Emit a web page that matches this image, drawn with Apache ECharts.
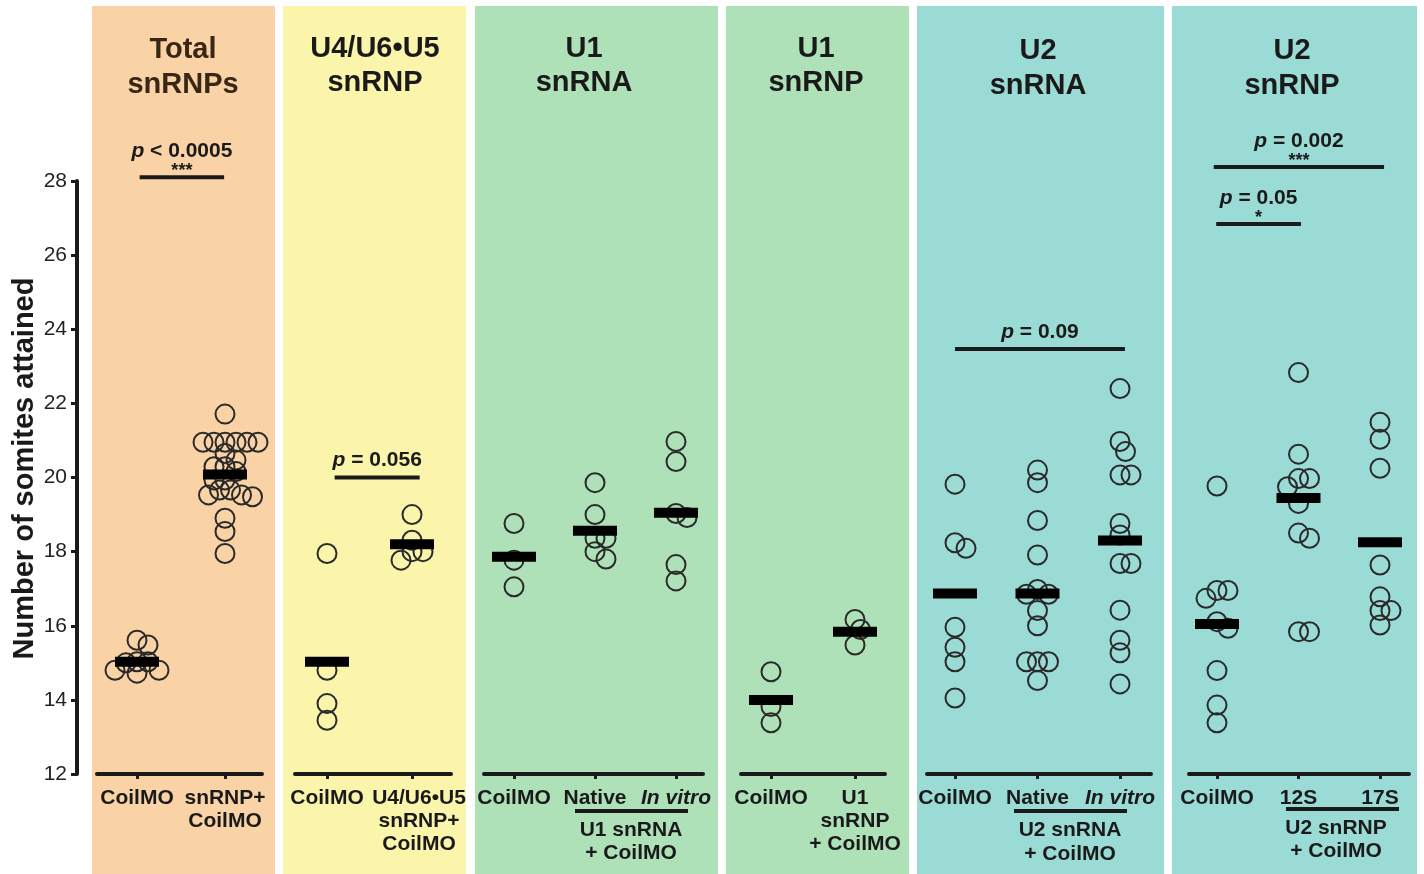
<!DOCTYPE html>
<html>
<head>
<meta charset="utf-8">
<script src="https://cdn.jsdelivr.net/npm/echarts@6/dist/echarts.min.js"></script>
<style>
  html, body { margin: 0; padding: 0; background: #ffffff; }
  #chart { width: 1424px; height: 874px; }
</style>
</head>
<body>
<div id="chart"></div>
<script>
// ---- Somites attained per embryo, by injection group ----
const totalCoil    = [15.61, 15.48, 15.03, 15.03, 15.0, 14.8, 14.8, 14.72];
const totalSnrnp   = [21.71, 20.95, 20.95, 20.95, 20.95, 20.95, 20.95, 20.65, 20.47, 20.29, 20.29,
                      20.16, 19.93, 19.93, 19.66, 19.66, 19.53, 19.53, 19.48, 18.9, 18.54, 17.95];
const totalMeans   = [15.03, 20.08];

const u456Coil     = [17.95, 14.8, 13.9, 13.45];
const u456Snrnp    = [19.0, 18.31, 18.0, 18.0, 17.77];
const u456Means    = [15.03, 18.2];

const u1rnaCoil    = [18.76, 17.77, 17.05];
const u1rnaNative  = [19.86, 19.0, 18.36, 18.36, 18.0, 17.8];
const u1rnaInVitro = [20.97, 20.43, 19.03, 18.92, 17.65, 17.21];
const u1rnaMeans   = [17.86, 18.56, 19.05];

const u1rnpCoil    = [14.76, 13.82, 13.38];
const u1rnpSnrnp   = [16.17, 15.9, 15.48];
const u1rnpMeans   = [14.0, 15.84];

const u2rnaCoil    = [19.82, 18.24, 18.09, 15.96, 15.42, 15.03, 14.05];
const u2rnaNative  = [20.2, 19.86, 18.84, 17.91, 16.98, 16.85, 16.85, 16.41, 16.0, 15.03, 15.03, 15.03, 14.52];
const u2rnaInVitro = [22.4, 20.97, 20.7, 20.07, 20.07, 18.76, 18.45, 17.68, 17.68, 16.42, 15.61, 15.27, 14.43];
const u2rnaMeans   = [16.87, 16.87, 18.3];

const u2rnpCoil    = [19.77, 16.95, 16.95, 16.74, 16.11, 15.93, 14.79, 13.86, 13.38];
const u2rnp12S     = [22.83, 20.63, 19.97, 19.97, 19.75, 19.3, 18.5, 18.36, 15.84, 15.84];
const u2rnp17S     = [21.49, 21.03, 20.25, 17.64, 16.78, 16.41, 16.41, 16.02];
const u2rnpMeans   = [16.05, 19.45, 18.25];

// ---- Category (tick) labels and panel titles ----
const totalLabels  = ['CoilMO', 'snRNP+\nCoilMO'];
const u456Labels   = ['CoilMO', 'U4/U6•U5\nsnRNP+\nCoilMO'];
const u1rnaLabels  = ['CoilMO', 'Native', 'In vitro'];
const u1rnpLabels  = ['CoilMO', 'U1\nsnRNP\n+ CoilMO'];
const u2rnaLabels  = ['CoilMO', 'Native', 'In vitro'];
const u2rnpLabels  = ['CoilMO', '12S', '17S'];
const panelTitles  = [['Total', 'snRNPs'], ['U4/U6•U5', 'snRNP'], ['U1', 'snRNA'],
                      ['U1', 'snRNP'], ['U2', 'snRNA'], ['U2', 'snRNP']];

// ---- Significance brackets (category units on x, somites on y) ----
const brackets = [
  { panel: 0, from: 0.03,  to: 0.99, y: 28.1,  rel: '< 0.0005', stars: '***' },
  { panel: 1, from: 0.09,  to: 1.09, y: 20.0,  rel: '= 0.056',  stars: '' },
  { panel: 4, from: 0.0,   to: 2.06, y: 23.47, rel: '= 0.09',   stars: '' },
  { panel: 5, from: -0.04, to: 2.05, y: 28.38, rel: '= 0.002',  stars: '***' },
  { panel: 5, from: -0.01, to: 1.03, y: 26.84, rel: '= 0.05',   stars: '*' }
];

const panels = [
  { groups: [totalCoil, totalSnrnp], means: totalMeans, labels: totalLabels },
  { groups: [u456Coil, u456Snrnp], means: u456Means, labels: u456Labels },
  { groups: [u1rnaCoil, u1rnaNative, u1rnaInVitro], means: u1rnaMeans, labels: u1rnaLabels },
  { groups: [u1rnpCoil, u1rnpSnrnp], means: u1rnpMeans, labels: u1rnpLabels },
  { groups: [u2rnaCoil, u2rnaNative, u2rnaInVitro], means: u2rnaMeans, labels: u2rnaLabels },
  { groups: [u2rnpCoil, u2rnp12S, u2rnp17S], means: u2rnpMeans, labels: u2rnpLabels }
];

// ---- Page layout (pixels) ----
const FONT = '"Liberation Sans", Arial, Helvetica, sans-serif';
const INK = '#1a1a1a';
const TEXT_DY = 3;
const GRID_TOP = 181, GRID_H = 593;
const Y_MIN = 12, Y_MAX = 28, Y_STEP = 2;
const PX_PER_Y = GRID_H / (Y_MAX - Y_MIN);
const LABEL_MARGIN = 13, LABEL_LH = 23;
const layout = [
  { L: 97,   R: 262,  t0: 137,  s: 88,   bg: [92, 275],    color: '#F9D3A6', tx: 183,  ty: [47, 82], titleColor: '#3a2616' },
  { L: 295,  R: 451,  t0: 327,  s: 85,   bg: [283, 466],   color: '#FBF5AB', tx: 375,  ty: [46, 80], titleColor: INK },
  { L: 484,  R: 703,  t0: 514,  s: 81,   bg: [475, 718],   color: '#AFE1B8', tx: 584,  ty: [46, 80], titleColor: INK },
  { L: 741,  R: 885,  t0: 771,  s: 84,   bg: [726, 909],   color: '#AFE1B8', tx: 816,  ty: [46, 80], titleColor: INK },
  { L: 927,  R: 1151, t0: 955,  s: 82.5, bg: [917, 1164],  color: '#9BDBD6', tx: 1038, ty: [48, 83], titleColor: INK },
  { L: 1189, R: 1409, t0: 1217, s: 81.5, bg: [1172, 1417], color: '#9BDBD6', tx: 1292, ty: [48, 83], titleColor: INK }
];
// tick labels set a little right of their tick (drawn separately so the axis keeps both labels)
const shiftedLabels = [{ panel: 1, index: 1, dx: 7 }];
// secondary labels grouping treatments below the axis
const groupNotes = [
  { line: [575, 688, 811],   text: ['U1 snRNA', '+ CoilMO'], x: 631,  y: [828, 851] },
  { line: [1014, 1127, 811], text: ['U2 snRNA', '+ CoilMO'], x: 1070, y: [828, 852] },
  { line: [1286, 1399, 809], text: ['U2 snRNP', '+ CoilMO'], x: 1336, y: [826, 849] }
];

// Beeswarm: spread overlapping points sideways (pixel offsets)
function swarm(values, minD, step) {
  const order = values.map((_, i) => i).sort((a, b) => values[b] - values[a]);
  const placed = [];
  const offs = new Array(values.length).fill(0);
  order.forEach(i => {
    const y = values[i] * PX_PER_Y;
    for (let k = 0; k < 60; k++) {
      const cand = k === 0 ? 0 : (k % 2 ? 1 : -1) * Math.ceil(k / 2) * step;
      if (placed.every(p => Math.hypot(p.x - cand, p.y - y) >= minD)) {
        placed.push({ x: cand, y });
        offs[i] = cand;
        break;
      }
    }
  });
  return offs;
}

const isShifted = (panel, index) => shiftedLabels.some(s => s.panel === panel && s.index === index);

const grids = [], xAxes = [], yAxes = [], series = [];
panels.forEach((p, i) => {
  const lay = layout[i];
  const n = p.groups.length;
  const idx = p.groups.map((_, g) => g);
  grids.push({ left: lay.L, width: lay.R - lay.L, top: GRID_TOP, height: GRID_H, outerBoundsMode: 'none' });
  xAxes.push({
    gridIndex: i, type: 'value',
    min: -(lay.t0 - lay.L) / lay.s,
    max: (n - 1) + (lay.R - (lay.t0 + (n - 1) * lay.s)) / lay.s,
    axisLine: { show: true, onZero: false, lineStyle: { color: INK, width: 4 } },
    axisTick: { show: true, customValues: idx, length: 5, lineStyle: { color: INK, width: 3 } },
    axisLabel: {
      customValues: idx, margin: LABEL_MARGIN, fontSize: 21, fontWeight: 'bold', color: INK,
      fontFamily: FONT, lineHeight: LABEL_LH, hideOverlap: false,
      formatter: v => {
        const k = Math.round(v);
        if (isShifted(i, k)) return '';
        const t = p.labels[k];
        return t === 'In vitro' ? '{it|In vitro}' : t;
      },
      rich: { it: { fontStyle: 'italic', fontWeight: 'bold', fontSize: 21, color: INK, fontFamily: FONT } }
    },
    splitLine: { show: false }
  });
  if (i === 0) {
    yAxes.push({
      gridIndex: 0, type: 'value', min: Y_MIN, max: Y_MAX, interval: Y_STEP,
      position: 'left', offset: 20,
      axisLine: { show: true, onZero: false, lineStyle: { color: INK, width: 4 } },
      axisTick: { show: true, length: 6, lineStyle: { color: INK, width: 3 } },
      axisLabel: { fontSize: 21, color: '#222', margin: 10, fontFamily: FONT },
      splitLine: { show: false },
      name: 'Number of somites attained', nameLocation: 'middle', nameGap: 37,
      nameTextStyle: { fontSize: 29, fontWeight: 'bold', color: INK, fontFamily: FONT, padding: [0, 0, 0, 18] }
    });
  } else {
    yAxes.push({ gridIndex: i, type: 'value', min: Y_MIN, max: Y_MAX, show: false, splitLine: { show: false } });
  }
  const pts = [];
  p.groups.forEach((vals, g) => {
    const offs = swarm(vals, 11, 5.5);
    vals.forEach((v, k) => pts.push([g + offs[k] / lay.s, v]));
  });
  series.push({
    type: 'scatter', xAxisIndex: i, yAxisIndex: i, data: pts,
    symbol: 'circle', symbolSize: 19, silent: true, z: 2,
    itemStyle: { color: 'rgba(0,0,0,0)', borderColor: '#2a2a2a', borderWidth: 2, opacity: 1 }
  });
  series.push({
    type: 'scatter', xAxisIndex: i, yAxisIndex: i,
    data: p.means.map((m, g) => [g, m]),
    symbol: 'rect', symbolSize: [44, 10], silent: true, z: 3,
    itemStyle: { color: '#000000', opacity: 1 }
  });
});

const chart = echarts.init(document.getElementById('chart'), null, { renderer: 'canvas' });
chart.setOption({
  animation: false,
  backgroundColor: '#ffffff',
  textStyle: { fontFamily: FONT },
  grid: grids, xAxis: xAxes, yAxis: yAxes, series: series
});

// Panel backgrounds, titles, group notes and significance brackets
const g = [];
layout.forEach((lay, i) => {
  g.push({ type: 'rect', z: -100, silent: true,
    shape: { x: lay.bg[0], y: 6, width: lay.bg[1] - lay.bg[0], height: 874 },
    style: { fill: lay.color } });
  panelTitles[i].forEach((t, li) => g.push({ type: 'text', z: 10, silent: true,
    style: { text: t, x: lay.tx, y: lay.ty[li] + TEXT_DY, align: 'center', verticalAlign: 'middle',
      fontSize: 29, fontWeight: 'bold', fontFamily: FONT, fill: lay.titleColor } }));
});
shiftedLabels.forEach(s => {
  const pt = chart.convertToPixel({ gridIndex: s.panel }, [s.index, Y_MIN]);
  g.push({ type: 'text', z: 10, silent: true,
    style: { text: panels[s.panel].labels[s.index], x: pt[0] + s.dx, y: pt[1] + LABEL_MARGIN,
      align: 'center', verticalAlign: 'top', lineHeight: LABEL_LH,
      fontSize: 21, fontWeight: 'bold', fontFamily: FONT, fill: INK } });
});
groupNotes.forEach(nt => {
  g.push({ type: 'line', z: 10, silent: true,
    shape: { x1: nt.line[0], y1: nt.line[2], x2: nt.line[1], y2: nt.line[2] },
    style: { stroke: INK, lineWidth: 4 } });
  nt.text.forEach((t, li) => g.push({ type: 'text', z: 10, silent: true,
    style: { text: t, x: nt.x, y: nt.y[li] + 2, align: 'center', verticalAlign: 'middle',
      fontSize: 21, fontWeight: 'bold', fontFamily: FONT, fill: INK } }));
});
brackets.forEach(b => {
  const a = chart.convertToPixel({ gridIndex: b.panel }, [b.from, b.y]);
  const c = chart.convertToPixel({ gridIndex: b.panel }, [b.to, b.y]);
  const mid = (a[0] + c[0]) / 2;
  g.push({ type: 'line', z: 10, silent: true,
    shape: { x1: a[0], y1: a[1], x2: c[0], y2: c[1] },
    style: { stroke: INK, lineWidth: 4 } });
  g.push({ type: 'text', z: 10, silent: true,
    style: { text: '{i|p} ' + b.rel, x: mid, y: a[1] - (b.stars ? 29 : 20) + TEXT_DY, align: 'center', verticalAlign: 'middle',
      fontSize: 21, fontWeight: 'bold', fontFamily: FONT, fill: INK,
      rich: { i: { fontStyle: 'italic', fontWeight: 'bold', fontSize: 21, fontFamily: FONT, fill: INK } } } });
  if (b.stars) {
    g.push({ type: 'text', z: 10, silent: true,
      style: { text: b.stars, x: mid, y: a[1] - 6, align: 'center', verticalAlign: 'middle',
        fontSize: 18, fontWeight: 'bold', fontFamily: FONT, fill: INK } });
  }
});
chart.setOption({ graphic: { elements: g } });
</script>
</body>
</html>
